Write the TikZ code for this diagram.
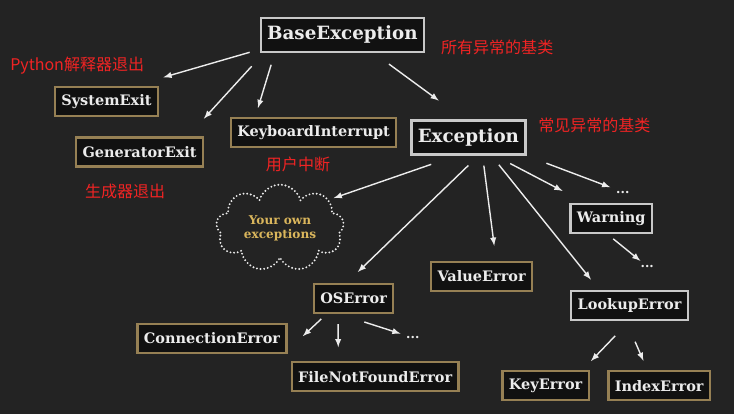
\documentclass[tikz,border=0pt]{standalone}
\usepackage{fontspec}
\setmainfont{DejaVu Serif}
\newfontfamily\cjkfont{Noto Sans CJK SC}
\usepackage{xcolor}
\usepackage{tikz}
\usetikzlibrary{arrows}
\usetikzlibrary{shapes,shapes.symbols}
\usetikzlibrary{backgrounds}
\pgfdeclarelayer{edgelayer}
\pgfdeclarelayer{nodelayer}
\pgfsetlayers{background,edgelayer,nodelayer,main}
\definecolor{bggrey}{RGB}{35,35,35}
\definecolor{boxfill}{RGB}{17,17,17}
\definecolor{boxgold}{RGB}{150,128,84}
\definecolor{boxgrey}{RGB}{200,200,200}
\definecolor{boxtext}{RGB}{236,236,236}
\definecolor{notered}{RGB}{240,36,36}
\definecolor{cloudgold}{RGB}{218,182,92}
\tikzstyle{none}=[inner sep=0mm]
\tikzstyle{box}=[draw=boxgold,line width=1.6pt,fill=boxfill,text=boxtext,font=\bfseries\fontsize{10.3}{12}\selectfont,minimum height=0.725cm,inner xsep=0.16cm,inner ysep=0pt]
\tikzstyle{grey box}=[box,draw=boxgrey]
\tikzstyle{big box}=[grey box,font=\bfseries\fontsize{13}{15}\selectfont,minimum height=0.85cm]
\tikzstyle{note}=[none,text=notered,font=\cjkfont\fontsize{11.4}{13}\selectfont]
\tikzstyle{dots}=[inner sep=0.4mm,text=boxtext,font=\bfseries\fontsize{9}{9}\selectfont]
\tikzstyle{own}=[cloud,cloud puffs=9,aspect=1.6,minimum width=3.2cm,minimum height=1.95cm,inner sep=0pt,draw=boxtext,line width=1.5pt,line cap=round,dash pattern=on 0pt off 2.6pt,text=cloudgold,align=center,font=\bfseries\fontsize{8.6}{10}\selectfont]
\tikzstyle{arr}=[-latex,draw=boxtext,line width=1pt]

\begin{document}
\begin{tikzpicture}
	\begin{pgfonlayer}{background}
		\fill [bggrey] (0, 0) rectangle (18.35, -10.35);
		\useasboundingbox (0, 0) rectangle (18.35, -10.35);
	\end{pgfonlayer}
	\begin{pgfonlayer}{nodelayer}
		\node [style=big box] (base) at (8.56, -0.87) {BaseException};
		\node [style=note] (n1) at (12.43, -1.18) {所有异常的基类};
		\node [style=note] (n2) at (1.93, -1.65) {Python解释器退出};
		\node [style=box] (sysexit) at (2.66, -2.54) {SystemExit};
		\node [style=box] (genexit) at (3.49, -3.8) {GeneratorExit};
		\node [style=note] (n3) at (3.13, -4.78) {生成器退出};
		\node [style=box] (kbint) at (7.84, -3.31) {KeyboardInterrupt};
		\node [style=note] (n4) at (7.45, -4.12) {用户中断};
		\node [style=big box] (exc) at (11.71, -3.44) {Exception};
		\node [style=note] (n5) at (14.86, -3.14) {常见异常的基类};
		\node [style=own] (mine) at (7.0, -5.7) {Your own\\exceptions};
		\node [style=dots] (dots1) at (15.57, -4.8) {...};
		\node [style=grey box] (warn) at (15.28, -5.46) {Warning};
		\node [style=dots] (dots2) at (16.18, -6.66) {...};
		\node [style=box] (valerr) at (12.04, -6.91) {ValueError};
		\node [style=box] (oserr) at (8.84, -7.46) {OSError};
		\node [style=grey box] (lookup) at (15.74, -7.63) {LookupError};
		\node [style=box] (connerr) at (5.3, -8.46) {ConnectionError};
		\node [style=dots] (dots3) at (10.32, -8.44) {...};
		\node [style=box] (fnf) at (9.38, -9.42) {FileNotFoundError};
		\node [style=box] (keyerr) at (13.64, -9.64) {KeyError};
		\node [style=box] (idxerr) at (16.48, -9.64) {IndexError};
	\end{pgfonlayer}
	\begin{pgfonlayer}{edgelayer}
		\draw [style=arr, shorten <=0.26cm, shorten >=0.78cm] (base.190) to (sysexit.30);
		\draw [style=arr, shorten <=0.45cm, shorten >=0.6cm] (base.193) to (genexit.18);
		\draw [style=arr, shorten <=0.31cm, shorten >=0.23cm] (base.195) to (kbint.165);
		\draw [style=arr, shorten <=0.47cm, shorten >=0.8cm] (base.330) to (exc.102);
		\draw [style=arr, shorten <=0.66cm, shorten >=0.12cm] (exc.236) to (mine.30);
		\draw [style=arr, shorten <=0.35cm, shorten >=0.39cm] (exc.299) to (oserr.114);
		\draw [style=arr, shorten <=0.25cm, shorten >=0.38cm] (exc.308) to (valerr.47);
		\draw [style=arr, shorten <=0.29cm, shorten >=0.32cm] (exc.322) to (lookup.153);
		\draw [style=arr, shorten <=0.42cm, shorten >=0.64cm] (exc.326) to (warn.149);
		\draw [style=arr, shorten <=0.53cm, shorten >=0.12cm] (exc.south east) to (dots1);
		\draw [style=arr, shorten <=0.19cm, shorten >=0.1cm] (warn.256) to (dots2);
		\draw [style=arr, shorten <=0.18cm, shorten >=0.52cm] (oserr.210) to (connerr.351);
		\draw [style=arr, shorten <=0.25cm, shorten >=0.35cm] (oserr.225) to (fnf.157);
		\draw [style=arr, shorten <=0.65cm, shorten >=0.1cm] (oserr.228) to (dots3);
		\draw [style=arr, shorten <=0.52cm, shorten >=0.31cm] (lookup.south) to (keyerr.23);
		\draw [style=arr, shorten <=0.57cm, shorten >=0.25cm] (lookup.257) to (idxerr.127);
	\end{pgfonlayer}
\end{tikzpicture}
\end{document}
